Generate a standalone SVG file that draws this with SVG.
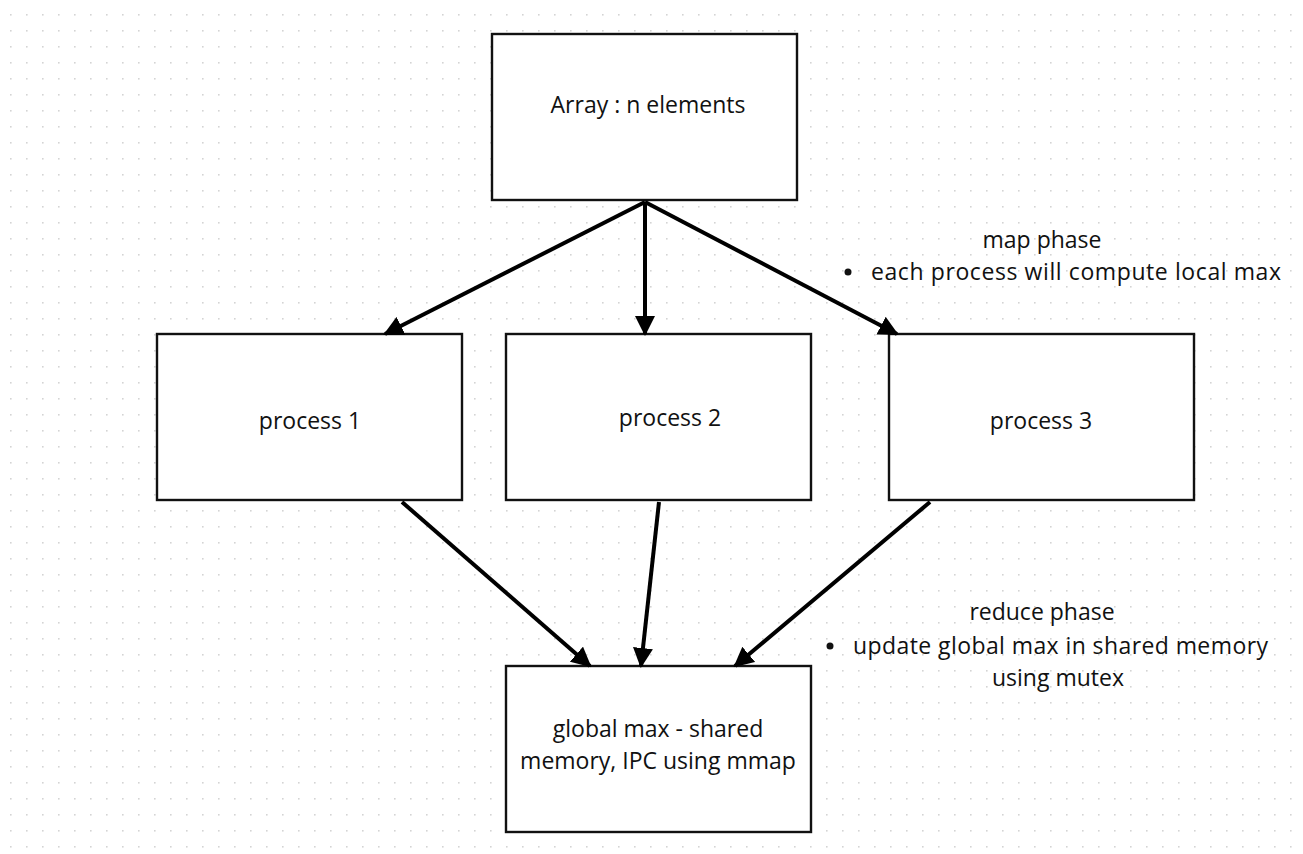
<svg xmlns="http://www.w3.org/2000/svg" width="1303" height="854" viewBox="0 0 1303 854">
<defs>
<pattern id="dots" x="0" y="0" width="16" height="16" patternUnits="userSpaceOnUse">
<rect x="10" y="14" width="1.6" height="1.6" fill="#d4d4d4"/>
</pattern>
<marker id="ah" viewBox="0 0 10 10" refX="9" refY="5" markerWidth="5" markerHeight="5" orient="auto" markerUnits="strokeWidth">
<path d="M0,0 L10,5 L0,10 z" fill="#000"/>
</marker>
</defs>
<style>
.box{fill:#fff;stroke:#111;stroke-width:2.4}
.t{font-family:"Open Sans","Liberation Sans",sans-serif;font-size:23px;fill:#111;text-anchor:middle}
.l{font-family:"Open Sans","Liberation Sans",sans-serif;font-size:23px;fill:#111}
.c{stroke:#000;stroke-width:4;fill:none;marker-end:url(#ah)}
</style>
<rect width="1303" height="854" fill="#fff"/>
<rect width="1303" height="854" fill="url(#dots)"/>
<g id="array"><rect class="box" x="492" y="34" width="305" height="166"/><text class="t" x="648" y="113">Array : n elements</text></g>
<g id="p1"><rect class="box" x="157" y="334" width="305" height="166"/><text class="t" x="310" y="429">process 1</text></g>
<g id="p2"><rect class="box" x="506" y="334" width="305" height="166"/><text class="t" x="670" y="426">process 2</text></g>
<g id="p3"><rect class="box" x="889" y="334" width="305" height="166"/><text class="t" x="1041" y="429">process 3</text></g>
<g id="global"><rect class="box" x="506" y="666" width="305" height="166"/><text class="t" x="658" y="737">global max - shared</text><text class="t" x="658" y="769">memory, IPC using mmap</text></g>
<g id="connectors">
<line class="c" x1="645" y1="202" x2="385" y2="334"/>
<line class="c" x1="645" y1="202" x2="645" y2="334"/>
<line class="c" x1="645" y1="202" x2="897" y2="334"/>
<line class="c" x1="402" y1="502" x2="590" y2="666"/>
<line class="c" x1="659" y1="502" x2="641" y2="666"/>
<line class="c" x1="930" y1="502" x2="735" y2="666"/>
</g>
<g id="map-note"><text class="t" x="1042" y="248">map phase</text><circle cx="848" cy="272" r="3.5" fill="#111"/><text class="l" x="871" y="280" textLength="410">each process will compute local max</text></g>
<g id="reduce-note"><text class="t" x="1042" y="620">reduce phase</text><circle cx="830" cy="646" r="3.5" fill="#111"/><text class="l" x="853" y="654" textLength="415">update global max in shared memory</text><text class="t" x="1058" y="686">using mutex</text></g>
</svg>
